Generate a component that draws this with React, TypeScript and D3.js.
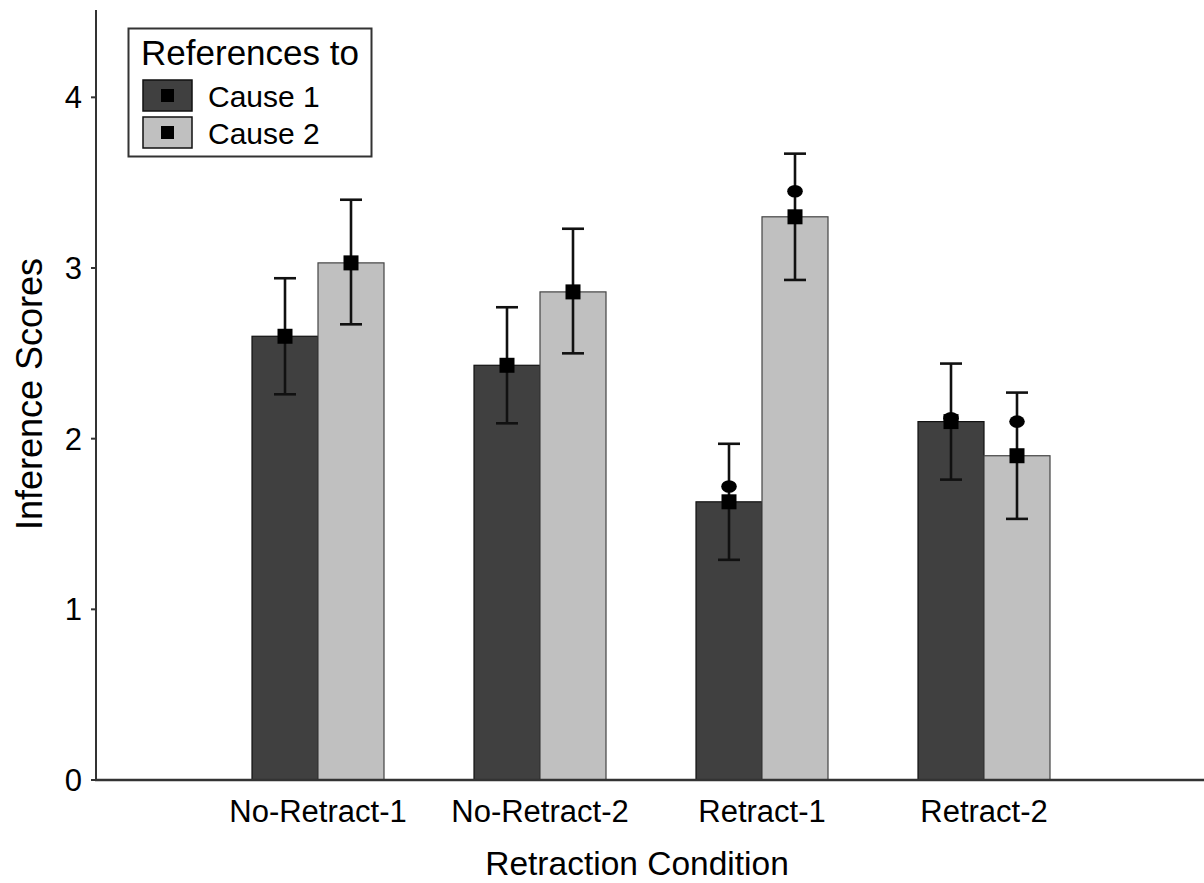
import React from "react";
import * as d3 from "d3";

const categories = ["No-Retract-1", "No-Retract-2", "Retract-1", "Retract-2"];
const cause1Means = [2.6, 2.43, 1.63, 2.1];
const cause1Low = [2.26, 2.09, 1.29, 1.76];
const cause1High = [2.94, 2.77, 1.97, 2.44];
const cause2Means = [3.03, 2.86, 3.3, 1.9];
const cause2Low = [2.67, 2.5, 2.93, 1.53];
const cause2High = [3.4, 3.23, 3.67, 2.27];
const cause1Dots = [null, null, 1.72, 2.12];
const cause2Dots = [null, null, 3.45, 2.1];
const yTicks = [0, 1, 2, 3, 4];

const W = 1204;
const H = 883;
const font = "'Liberation Sans', Arial, sans-serif";

export default function App() {
  const x = d3.scaleLinear().domain([0, categories.length + 1]).range([96, 1206]);
  const y = d3.scaleLinear().domain([0, 4.5]).range([780, 12]);
  const bw = 66;

  const series = [
    { name: "Cause 1", fill: "#404040", stroke: "#111", means: cause1Means, lo: cause1Low, hi: cause1High, dots: cause1Dots, off: -bw },
    { name: "Cause 2", fill: "#c0c0c0", stroke: "#444", means: cause2Means, lo: cause2Low, hi: cause2High, dots: cause2Dots, off: 0 },
  ];

  return (
    <div style={{ position: "absolute", left: 0, top: 0 }}>
      <svg width={W} height={H} style={{ display: "block", background: "#fff" }} fontFamily={font}>
        {/* bars */}
        {series.map((s) =>
          categories.map((c, i) => (
            <rect
              key={s.name + c}
              x={x(i + 1) + s.off}
              y={y(s.means[i])}
              width={bw}
              height={y(0) - y(s.means[i])}
              fill={s.fill}
              stroke={s.stroke}
              strokeWidth={1.2}
            />
          ))
        )}
        {/* error bars, markers */}
        {series.map((s) =>
          categories.map((c, i) => {
            const cx = x(i + 1) + s.off + bw / 2;
            const d = s.dots[i];
            return (
              <g key={"e" + s.name + c} stroke="#111" strokeWidth={2.6}>
                <line x1={cx} x2={cx} y1={y(s.lo[i])} y2={y(s.hi[i])} />
                <line x1={cx - 11} x2={cx + 11} y1={y(s.lo[i])} y2={y(s.lo[i])} />
                <line x1={cx - 11} x2={cx + 11} y1={y(s.hi[i])} y2={y(s.hi[i])} />
                {d != null && <ellipse cx={cx} cy={y(d)} rx={7.8} ry={6.3} fill="#000" stroke="none" />}
                <rect x={cx - 7.5} y={y(s.means[i]) - 7.5} width={15} height={15} fill="#000" stroke="none" />
              </g>
            );
          })
        )}
        {/* axes */}
        <line x1={96} x2={96} y1={10} y2={781} stroke="#333" strokeWidth={2} />
        <line x1={95} x2={1204} y1={780} y2={780} stroke="#333" strokeWidth={2.5} />
        {yTicks.map((t) => (
          <g key={t}>
            <line x1={91} x2={96} y1={y(t)} y2={y(t)} stroke="#333" strokeWidth={2} />
            <text x={82} y={y(t)} dy={11} textAnchor="end" fontSize={31} fill="#000">
              {t}
            </text>
          </g>
        ))}
        {categories.map((c, i) => (
          <text key={c} x={x(i + 1)} y={822} textAnchor="middle" fontSize={31} fill="#000">
            {c}
          </text>
        ))}
        <text x={637} y={875} textAnchor="middle" fontSize={33.5} fill="#000">
          Retraction Condition
        </text>
        <text transform={`translate(42,394) rotate(-90)`} textAnchor="middle" fontSize={36} fill="#000">
          Inference Scores
        </text>
        {/* legend */}
        <rect x={128.5} y={28.5} width={243} height={128} fill="#fff" stroke="#333" strokeWidth={2} />
        <text x={250} y={65} textAnchor="middle" fontSize={35} fill="#000">
          References to
        </text>
        {series.map((s, k) => {
          const ly = 80 + k * 37;
          return (
            <g key={"l" + s.name}>
              <rect x={143} y={ly} width={49} height={31} fill={s.fill} stroke="#111" strokeWidth={1.5} />
              <rect x={161} y={ly + 9} width={13} height={13} fill="#000" />
              <text x={208} y={ly + 27} fontSize={30} fill="#000">
                {s.name}
              </text>
            </g>
          );
        })}
      </svg>
    </div>
  );
}
